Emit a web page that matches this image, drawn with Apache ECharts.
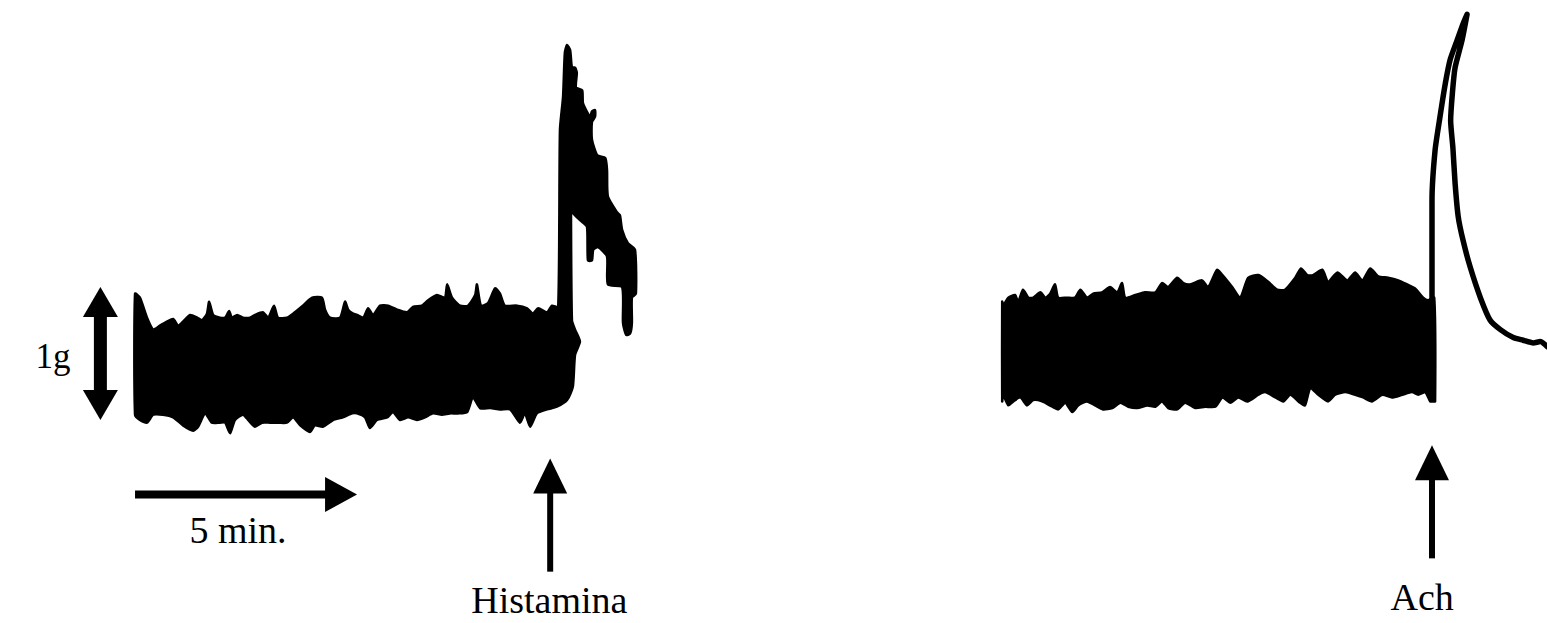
<!DOCTYPE html>
<html><head><meta charset="utf-8">
<script src="https://cdn.jsdelivr.net/npm/echarts@6/dist/echarts.min.js"></script>
<style>html,body{margin:0;padding:0;background:#fff}#chart{width:1547px;height:623px}</style>
</head><body><div id="chart"></div>
<script>
// Time in minutes (scale bar = 5 min), tension in g (scale bar = 1 g)
// Outline of the recording before and after histamine: [minute, g]
const histaminaTrace = [
[0.00,0.95],[0.11,0.92],[0.27,0.77],[0.41,0.68],[0.56,0.71],[0.72,0.74],[0.86,0.76],[0.97,0.71],[1.08,0.74],[1.24,0.79],
[1.40,0.77],[1.51,0.75],[1.62,0.80],[1.67,0.89],[1.76,0.79],[1.91,0.77],[2.03,0.77],[2.12,0.82],[2.18,0.77],[2.30,0.79],
[2.43,0.77],[2.59,0.77],[2.70,0.79],[2.88,0.81],[3.00,0.77],[3.13,0.86],[3.22,0.77],[3.42,0.77],[3.56,0.80],[3.78,0.86],
[3.99,0.92],[4.21,0.92],[4.28,0.83],[4.39,0.77],[4.62,0.77],[4.73,0.89],[4.80,0.83],[4.91,0.80],[5.00,0.79],[5.14,0.77],
[5.25,0.84],[5.36,0.79],[5.52,0.86],[5.70,0.86],[5.90,0.83],[6.13,0.81],[6.26,0.85],[6.46,0.86],[6.60,0.90],[6.80,0.94],
[6.98,0.92],[7.03,1.02],[7.14,0.92],[7.32,0.86],[7.50,0.86],[7.66,0.94],[7.70,1.02],[7.79,0.86],[7.95,0.88],[8.11,0.99],
[8.22,0.95],[8.33,0.86],[8.60,0.86],[8.83,0.84],[8.96,0.80],[9.08,0.84],[9.28,0.81],[9.39,0.86],[9.53,0.85],
[9.57,2.18],[9.64,2.43],[9.68,2.76],[9.73,2.82],[9.80,2.78],[9.84,2.65],[9.91,2.65],[9.95,2.61],[9.93,2.50],[10.07,2.48],
[10.09,2.38],[10.25,2.28],[10.29,2.32],[10.36,2.33],[10.36,2.28],[10.29,2.24],[10.29,2.11],[10.41,1.99],[10.59,1.97],[10.63,1.88],
[10.65,1.68],[10.86,1.56],[10.92,1.54],[10.97,1.43],[11.10,1.33],[11.26,1.28],[11.28,0.95],[11.19,0.92],[11.19,0.73],[11.15,0.65],
[11.06,0.64],[10.99,0.73],[10.97,1.00],[10.65,1.02],[10.63,1.23],[10.43,1.30],[10.32,1.28],[10.29,1.20],[10.20,1.20],[10.18,1.45],
[10.07,1.49],[9.86,1.56],[9.82,1.73],[9.84,0.75],[9.91,0.68],[10.02,0.59],[9.91,0.49],[9.86,0.25],[9.73,0.15],
[9.50,0.10],[9.28,0.08],[9.05,0.05],[8.90,-0.05],[8.78,0.05],[8.67,-0.02],[8.45,0.08],[8.22,0.08],[8.00,0.09],[7.77,0.09],
[7.61,0.17],[7.48,0.06],[7.27,0.05],[7.09,0.05],[6.91,0.04],[6.71,0.05],[6.53,0.02],[6.35,0.00],[6.15,0.02],[5.97,0.00],
[5.81,0.06],[5.68,0.02],[5.45,0.00],[5.29,-0.06],[5.18,0.02],[5.00,0.05],[4.89,0.05],[4.68,0.02],[4.46,0.00],[4.23,-0.05],
[4.05,-0.04],[3.94,-0.09],[3.72,-0.04],[3.56,0.02],[3.42,-0.02],[3.22,-0.02],[3.04,-0.02],[2.86,-0.02],[2.70,-0.05],[2.55,0.00],
[2.43,0.04],[2.25,0.00],[2.14,-0.10],[2.03,-0.02],[1.91,-0.02],[1.73,-0.02],[1.58,0.05],[1.42,-0.05],[1.31,-0.08],[1.08,-0.04],
[0.86,0.02],[0.63,0.04],[0.41,0.04],[0.27,-0.02],[0.11,0.00],[0.00,0.04]
];
// Outline of the baseline recording before acetylcholine: [minute, g]
const achBaseline = [
[19.53,0.89],[19.55,0.86],[19.67,0.92],[19.82,0.94],[19.89,0.89],[20.00,0.98],[20.12,0.92],[20.23,0.92],[20.39,0.96],[20.50,0.92],
[20.61,0.95],[20.72,1.02],[20.79,0.92],[20.99,0.92],[21.17,0.92],[21.29,0.98],[21.44,0.92],[21.58,0.95],[21.78,0.96],[21.96,1.00],
[22.12,0.96],[22.23,1.03],[22.30,0.92],[22.53,0.94],[22.75,0.96],[22.98,0.96],[23.13,1.03],[23.27,1.00],[23.47,1.07],[23.61,1.03],
[23.76,1.02],[24.03,1.05],[24.17,1.00],[24.37,1.13],[24.49,1.09],[24.71,1.00],[24.89,0.92],[25.07,1.07],[25.30,1.09],[25.52,1.04],
[25.72,0.98],[25.90,0.98],[26.13,1.07],[26.26,1.14],[26.40,1.09],[26.53,1.09],[26.74,1.13],[26.87,1.04],[27.08,1.11],[27.30,1.05],
[27.48,1.11],[27.64,1.05],[27.82,1.14],[28.00,1.08],[28.22,1.07],[28.45,1.05],[28.65,1.02],[28.83,0.99],[29.01,0.92],[29.12,0.90],
[29.26,0.92],[29.28,0.14],
[29.24,0.14],[29.17,0.14],[29.06,0.21],[28.90,0.19],[28.76,0.21],[28.54,0.19],[28.31,0.17],[28.09,0.19],[27.86,0.14],[27.66,0.17],
[27.48,0.19],[27.26,0.21],[27.03,0.19],[26.87,0.14],[26.65,0.19],[26.47,0.24],[26.35,0.11],[26.24,0.13],[26.02,0.19],[25.86,0.14],
[25.68,0.17],[25.45,0.21],[25.30,0.19],[25.05,0.14],[24.85,0.17],[24.67,0.13],[24.49,0.17],[24.33,0.10],[24.10,0.10],[23.88,0.09],
[23.65,0.13],[23.47,0.08],[23.27,0.09],[23.13,0.14],[22.98,0.10],[22.80,0.11],[22.57,0.09],[22.37,0.10],[22.19,0.13],[22.01,0.09],
[21.80,0.08],[21.62,0.11],[21.44,0.14],[21.24,0.11],[21.11,0.06],[20.95,0.13],[20.79,0.08],[20.66,0.10],[20.43,0.14],[20.23,0.15],
[20.09,0.11],[19.94,0.17],[19.78,0.14],[19.67,0.11],[19.55,0.19],[19.53,0.14]
];
// Contraction and relaxation after acetylcholine: [minute, g]
const achResponse = [
[29.21,0.90],[29.21,1.65],[29.28,2.03],[29.39,2.28],[29.51,2.53],[29.62,2.71],[29.78,2.86],[29.91,2.98],[30.00,3.05],
[29.89,2.86],[29.73,2.65],[29.67,2.46],[29.63,2.25],[29.68,2.05],[29.73,1.78],[29.80,1.53],[29.91,1.35],[30.07,1.15],
[30.30,0.92],[30.52,0.75],[30.75,0.68],[31.04,0.62],[31.26,0.60],[31.49,0.58],[31.65,0.59],[31.81,0.55]
];
// Scale bars and drug additions
const forceBarRange = [0, 1];           // g
const timeBarRange = [0, 5];            // min
const drugNames = ['Histamina', 'Ach'];
const drugTimes = [9.35, 29.21];        // min
const forceLabel = '1g';
const timeLabel = '5 min.';

// ---- layout (placement of annotations in axis units) ----
const xExtent = [-3.041, 31.80];
const yExtent = [-1.526, 3.158];
const forceBarX = -0.78;
const timeBarY = -0.56;
const drugArrowY = [[-1.14, -0.29], [-1.04, -0.19]];
const drugLabelPos = [[9.33, -1.35], [28.99, -1.33]];
const forceLabelPos = [-1.85, 0.48];
const timeLabelPos = [2.32, -0.83];

const FONT = '38px "Liberation Serif", "DejaVu Serif", serif';
const SMALL_FONT = '35px "Liberation Serif", "DejaVu Serif", serif';

function polygonSeries(name, pts) {
  return {
    type: 'custom', name: name, silent: true, clip: false,
    data: [pts[0]],
    renderItem: function (params, api) {
      return {
        type: 'polygon',
        shape: { points: pts.map(function (p) { return api.coord(p); }), smooth: 0.2 },
        style: { fill: '#000', stroke: '#000', lineWidth: 2.5, lineJoin: 'round' }
      };
    }
  };
}

function head(tip, dx, dy, len, width) {
  const bx = tip[0] - dx * len, by = tip[1] - dy * len;
  const px = -dy * width / 2, py = dx * width / 2;
  return { type: 'polygon', shape: { points: [tip, [bx + px, by + py], [bx - px, by - py]] }, style: { fill: '#000' } };
}
function shaft(a, b, w) {
  return { type: 'line', shape: { x1: a[0], y1: a[1], x2: b[0], y2: b[1] }, style: { stroke: '#000', lineWidth: w, lineCap: 'butt' } };
}
function label(text, p, font) {
  return { type: 'text', style: { text: text, x: p[0], y: p[1], font: font || FONT, fill: '#000', align: 'center', verticalAlign: 'middle' } };
}

const annotations = {
  type: 'custom', name: 'annotations', silent: true, clip: false,
  data: [[0, 0]],
  renderItem: function (params, api) {
    const ch = [];
    const ft = api.coord([forceBarX, forceBarRange[1]]);
    const fb = api.coord([forceBarX, forceBarRange[0]]);
    ch.push(shaft([ft[0], ft[1] + 28], [fb[0], fb[1] - 28], 13));
    ch.push(head(ft, 0, -1, 30, 35));
    ch.push(head(fb, 0, 1, 30, 35));
    ch.push(label(forceLabel, api.coord(forceLabelPos), SMALL_FONT));
    const tl = api.coord([timeBarRange[0], timeBarY]);
    const tr = api.coord([timeBarRange[1], timeBarY]);
    ch.push(shaft(tl, [tr[0] - 30, tr[1]], 8));
    ch.push(head(tr, 1, 0, 32, 35));
    ch.push(label(timeLabel, api.coord(timeLabelPos)));
    for (let i = 0; i < drugNames.length; i++) {
      const tail = api.coord([drugTimes[i], drugArrowY[i][0]]);
      const tip = api.coord([drugTimes[i], drugArrowY[i][1]]);
      ch.push(shaft(tail, [tip[0], tip[1] + 33], 6));
      ch.push(head(tip, 0, -1, 35, 34));
      ch.push(label(drugNames[i], api.coord(drugLabelPos[i])));
    }
    return { type: 'group', children: ch };
  }
};

const chart = echarts.init(document.getElementById('chart'), null, { renderer: 'svg' });
chart.setOption({
  animation: false,
  backgroundColor: '#fff',
  grid: { left: 0, right: 0, top: 0, bottom: 0 },
  xAxis: { type: 'value', min: xExtent[0], max: xExtent[1], show: false },
  yAxis: { type: 'value', min: yExtent[0], max: yExtent[1], show: false },
  series: [
    polygonSeries('Histamina', histaminaTrace),
    polygonSeries('Ach baseline', achBaseline),
    {
      type: 'line', name: 'Ach', data: achResponse, showSymbol: false, silent: true, smooth: 0.2,
      lineStyle: { color: '#000', width: 5.5, join: 'round', cap: 'round' }
    },
    annotations
  ]
});
</script></body></html>
